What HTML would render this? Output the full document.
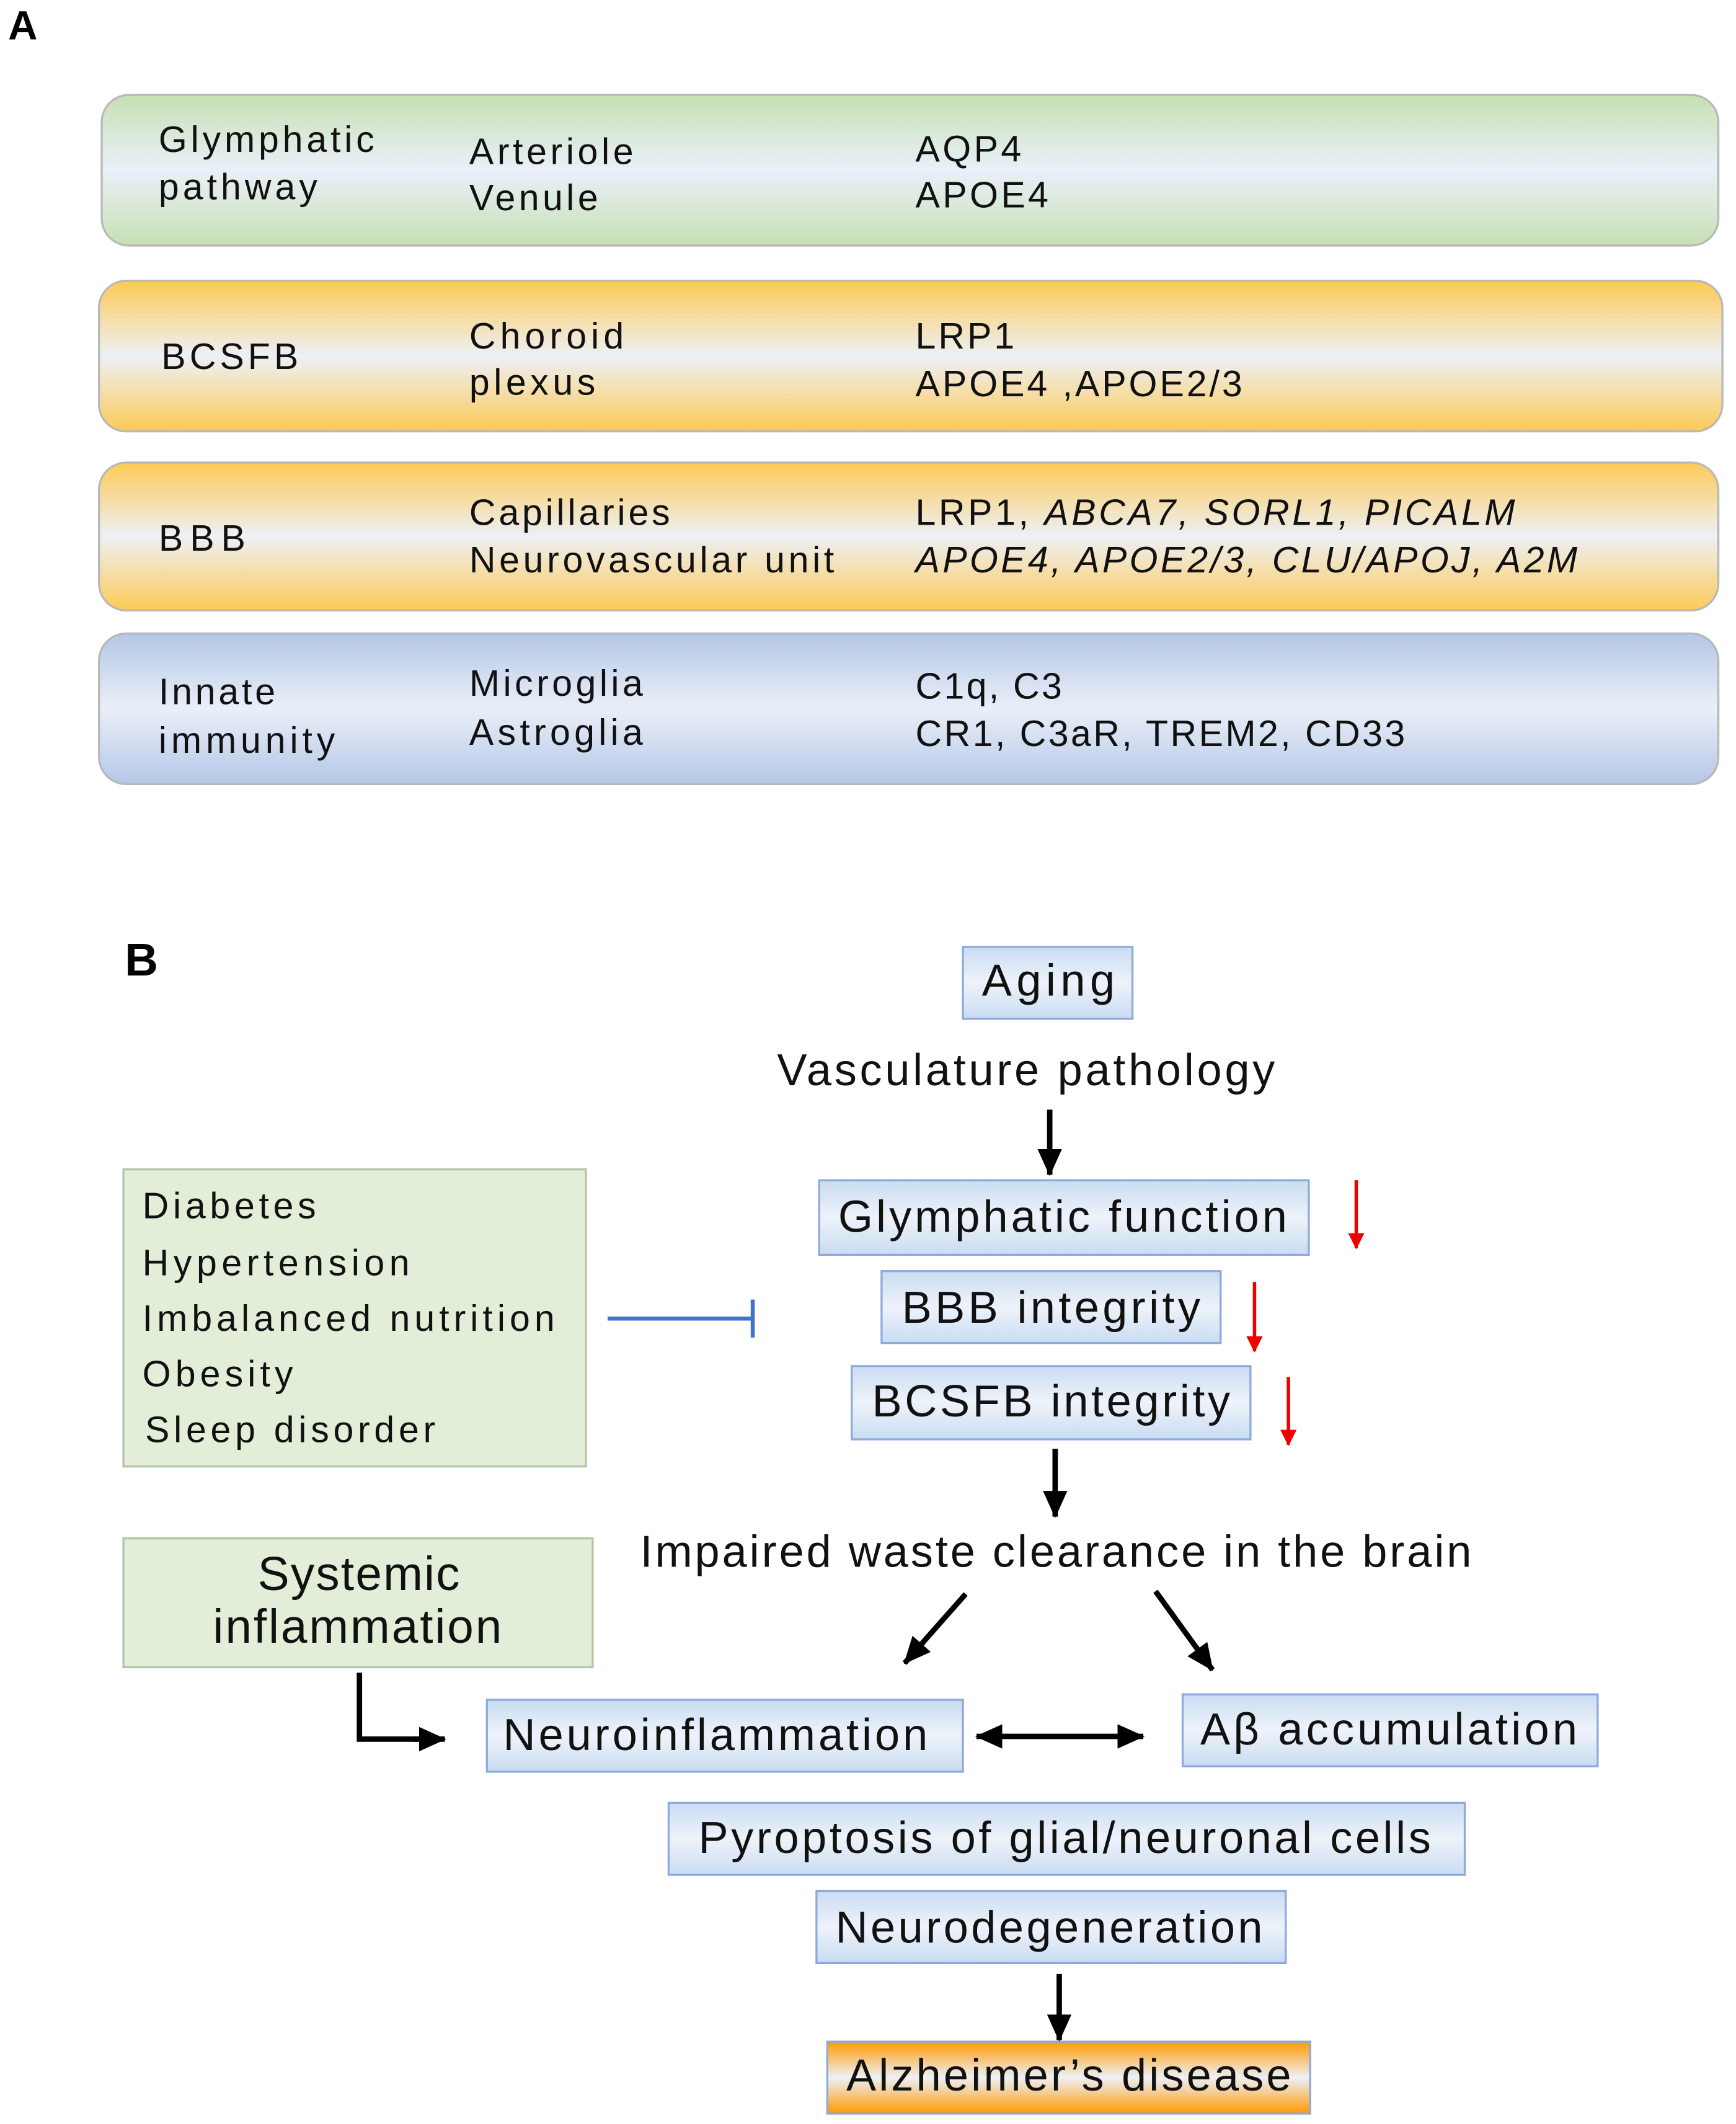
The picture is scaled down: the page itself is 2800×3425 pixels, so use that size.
<!DOCTYPE html>
<html><head><style>html,body{margin:0;padding:0;background:#fff}svg{display:block}</style></head>
<body>
<svg width="2800" height="3425" viewBox="0 0 1280 1565.7" preserveAspectRatio="none" xmlns="http://www.w3.org/2000/svg" font-family="'Liberation Sans', Arial, sans-serif">
<defs>
<linearGradient id="gG" x1="0" y1="0" x2="0" y2="1"><stop offset="0" stop-color="#c6e0b4"/><stop offset="0.5" stop-color="#eaf0f8"/><stop offset="1" stop-color="#c6e0b4"/></linearGradient>
<linearGradient id="gO" x1="0" y1="0" x2="0" y2="1"><stop offset="0" stop-color="#fdca55"/><stop offset="0.5" stop-color="#eef0f6"/><stop offset="1" stop-color="#fdca55"/></linearGradient>
<linearGradient id="gB" x1="0" y1="0" x2="0" y2="1"><stop offset="0" stop-color="#b4c7e7"/><stop offset="0.5" stop-color="#eaeff8"/><stop offset="1" stop-color="#b4c7e7"/></linearGradient>
<linearGradient id="gL" x1="0" y1="0" x2="0" y2="1"><stop offset="0" stop-color="#c9dcf2"/><stop offset="0.5" stop-color="#eef3fa"/><stop offset="1" stop-color="#c9dcf2"/></linearGradient>
<linearGradient id="gA" x1="0" y1="0" x2="0" y2="1"><stop offset="0" stop-color="#ff9a00"/><stop offset="0.5" stop-color="#eef0f8"/><stop offset="1" stop-color="#ff9a00"/></linearGradient>
<marker id="akb" markerWidth="20" markerHeight="18" refX="19" refY="9" orient="auto-start-reverse" markerUnits="userSpaceOnUse"><path d="M0,0 L20,9 L0,18 z" fill="#000"/></marker>
<marker id="ar" markerWidth="12" markerHeight="14" refX="11" refY="6" orient="auto" markerUnits="userSpaceOnUse"><path d="M0,0 L12,6 L0,12 z" fill="#e00"/></marker>
</defs>

<text x="6" y="29" font-size="30" font-weight="bold">A</text>

<g stroke="#b8b8b8" stroke-width="1.5">
<rect x="75" y="70" width="1192" height="111" rx="20" fill="url(#gG)"/>
<rect x="73" y="207" width="1197" height="111" rx="20" fill="url(#gO)"/>
<rect x="73" y="341" width="1194" height="109" rx="20" fill="url(#gO)"/>
<rect x="73" y="467" width="1194" height="111" rx="20" fill="url(#gB)"/>
</g>
<g font-size="27" fill="#111" lengthAdjust="spacing">
<text x="117" y="112" textLength="159">Glymphatic</text><text x="117" y="147" textLength="117">pathway</text>
<text x="346" y="121" textLength="121">Arteriole</text><text x="346" y="155" textLength="95">Venule</text>
<text x="675" y="119" textLength="78">AQP4</text><text x="675" y="153" textLength="98">APOE4</text>
<text x="119" y="272" textLength="101">BCSFB</text>
<text x="346" y="257" textLength="114">Choroid</text><text x="346" y="291" textLength="93">plexus</text>
<text x="675" y="257" textLength="73">LRP1</text><text x="675" y="292" textLength="241">APOE4 ,APOE2/3</text>
<text x="117" y="406" textLength="64">BBB</text>
<text x="346" y="387" textLength="148">Capillaries</text><text x="346" y="422" textLength="269">Neurovascular unit</text>
<text x="675" y="387" textLength="442">LRP1, <tspan font-style="italic">ABCA7, SORL1, PICALM</tspan></text>
<text x="675" y="422" font-style="italic" textLength="488">APOE4, APOE2/3, CLU/APOJ, A2M</text>
<text x="117" y="519" textLength="86">Innate</text><text x="117" y="555" textLength="130">immunity</text>
<text x="346" y="513" textLength="128">Microglia</text><text x="346" y="549" textLength="128">Astroglia</text>
<text x="675" y="515" textLength="108">C1q, C3</text><text x="675" y="550" textLength="361">CR1, C3aR, TREM2, CD33</text>
</g>

<text x="92" y="719" font-size="34" font-weight="bold">B</text>

<g stroke="#8ea9db" stroke-width="1.5">
<rect x="710" y="698" width="125" height="53" fill="url(#gL)"/>
<rect x="604" y="870" width="361" height="55" fill="url(#gL)"/>
<rect x="650" y="937" width="250" height="53" fill="url(#gL)"/>
<rect x="628" y="1007" width="294" height="54" fill="url(#gL)"/>
<rect x="359" y="1253" width="351" height="53" fill="url(#gL)"/>
<rect x="872" y="1249" width="306" height="53" fill="url(#gL)"/>
<rect x="493" y="1329" width="587" height="53" fill="url(#gL)"/>
<rect x="602" y="1394" width="346" height="53" fill="url(#gL)"/>
<rect x="610" y="1505" width="356" height="53" fill="url(#gA)"/>
</g>
<g stroke="#b5c4a6" stroke-width="1.5" fill="#e2eed8">
<rect x="91" y="862" width="341" height="219"/>
<rect x="91" y="1134" width="346" height="95"/>
</g>

<g font-size="33" fill="#111" lengthAdjust="spacingAndGlyphs">
<text x="724" y="734" textLength="98">Aging</text>
<text x="573" y="800" textLength="367">Vasculature pathology</text>
<text x="618" y="908" textLength="331">Glymphatic function</text>
<text x="665" y="975" textLength="220">BBB integrity</text>
<text x="643" y="1044" textLength="264">BCSFB integrity</text>
<text x="472" y="1155" textLength="613">Impaired waste clearance in the brain</text>
<text x="371" y="1290" textLength="313">Neuroinflammation</text>
<text x="885" y="1286" textLength="278">Aβ accumulation</text>
<text x="515" y="1366" textLength="540">Pyroptosis of glial/neuronal cells</text>
<text x="616" y="1432" textLength="315">Neurodegeneration</text>
<text x="624" y="1541" textLength="328">Alzheimer’s disease</text>
<text x="190" y="1172" font-size="35" textLength="149">Systemic</text>
<text x="157" y="1211" font-size="35" textLength="213">inflammation</text>
</g>
<g font-size="27" fill="#111" lengthAdjust="spacingAndGlyphs">
<text x="105" y="898" textLength="128">Diabetes</text>
<text x="105" y="940" textLength="197">Hypertension</text>
<text x="105" y="981" textLength="304">Imbalanced nutrition</text>
<text x="105" y="1022" textLength="111">Obesity</text>
<text x="107" y="1063" textLength="214">Sleep disorder</text>
</g>

<g stroke="#000" stroke-width="4" fill="none">
<line x1="774" y1="818" x2="774" y2="866" marker-end="url(#akb)"/>
<line x1="778" y1="1068" x2="778" y2="1118" marker-end="url(#akb)"/>
<line x1="712" y1="1175" x2="667" y2="1226" marker-end="url(#akb)"/>
<line x1="852" y1="1173" x2="894" y2="1231" marker-end="url(#akb)"/>
<polyline points="265,1233 265,1282 312,1282"/>
<line x1="305" y1="1282" x2="328" y2="1282" marker-end="url(#akb)"/>
<line x1="720" y1="1280" x2="843" y2="1280" marker-start="url(#akb)" marker-end="url(#akb)"/>
<line x1="781" y1="1455" x2="781" y2="1504" marker-end="url(#akb)"/>
</g>
<g stroke="#e00" stroke-width="2.5">
<line x1="1000" y1="870" x2="1000" y2="920" marker-end="url(#ar)"/>
<line x1="925" y1="945" x2="925" y2="996" marker-end="url(#ar)"/>
<line x1="950" y1="1015" x2="950" y2="1065" marker-end="url(#ar)"/>
</g>
<g stroke="#4472c4" stroke-width="3">
<line x1="448" y1="972" x2="555" y2="972"/>
<line x1="555" y1="958" x2="555" y2="986"/>
</g>
</svg>
</body></html>
